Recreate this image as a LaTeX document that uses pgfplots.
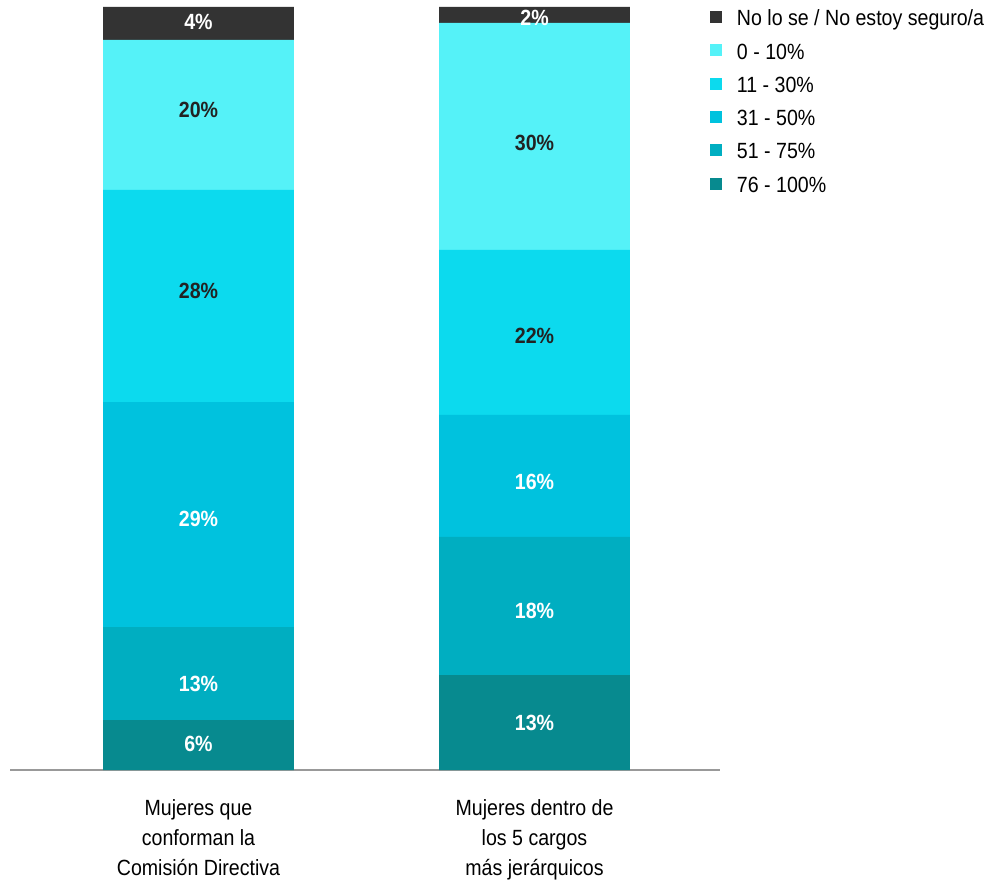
\documentclass[border=0pt]{standalone}
\usepackage{fontspec}
\setmainfont{Liberation Sans}[FakeStretch=0.89]
\usepackage{pgfplots}
\pgfplotsset{compat=1.18}
\definecolor{cns}{HTML}{333333}
\definecolor{cA}{HTML}{55F2F8}
\definecolor{cB}{HTML}{0CDAEE}
\definecolor{cC}{HTML}{00C2DE}
\definecolor{cD}{HTML}{00AEC1}
\definecolor{cE}{HTML}{078A8F}
\definecolor{txt}{HTML}{222222}
\pgfplotsset{
  base/.style={
    scale only axis,
    width=532.5pt, height=572.25pt,
    xmin=-0.561, xmax=1.552,
    ymin=0, ymax=100,
  },
  lbl/.style={
    only marks, mark=none, point meta=explicit,
    nodes near coords={\pgfmathprintnumber[assume math mode=true,precision=0]{\pgfplotspointmeta}\%},
    every node near coord/.append style={anchor=center, font=\fontsize{16.5}{18}\selectfont\bfseries, text=#1},
  },
}
\begin{document}
\begin{tikzpicture}
\path[use as bounding box] (-7.5pt,-84.75pt) rectangle (735.75pt,577.5pt);
\begin{axis}[
  base,
  ybar stacked,
  bar width=0.568,
  axis x line=bottom,
  axis y line=none,
  axis line style={-, draw=black!40, line width=1.2pt},
  xtick={0,1},
  major tick length=0pt,
  xticklabels={{Mujeres que\\conforman la\\Comisión Directiva},{Mujeres dentro de\\los 5 cargos\\más jerárquicos}},
  xticklabel style={align=center, font=\fontsize{16.5}{22.5}\selectfont, text=black, yshift=-18.5pt},
  ytick=\empty,
  legend style={at={(axis description cs:0.986,1.0)}, anchor=north west, draw=none, fill=none,
    font=\fontsize{16.5}{18}\selectfont, row sep=7.95pt, inner sep=0pt,
    /tikz/every odd column/.append style={column sep=9pt}},
  legend cell align=left,
  reverse legend,
  legend image code/.code={\fill[#1] (0pt,-3pt) rectangle (9pt,6pt);},
]
\addplot[fill=cE, draw=none] table {
0 6.55
1 12.45
};
\addlegendentry{76 - 100\%}
\addplot[fill=cD, draw=none] table {
0 12.19
1 18.09
};
\addlegendentry{51 - 75\%}
\addplot[fill=cC, draw=none] table {
0 29.49
1 15.99
};
\addlegendentry{31 - 50\%}
\addplot[fill=cB, draw=none] table {
0 27.79
1 21.63
};
\addlegendentry{11 - 30\%}
\addplot[fill=cA, draw=none] table {
0 19.66
1 29.75
};
\addlegendentry{0 - 10\%}
\addplot[fill=cns, draw=none] table {
0 4.32
1 2.10
};
\addlegendentry{No lo se / No estoy seguro/a}
\end{axis}
% value labels inside each segment
\begin{axis}[base, hide axis]
\addplot[lbl=white] table[x=x, y=y, meta=l] {x y l
0 3.40 6
1 6.15 13
0 11.27 13
1 20.84 18
0 32.90 29
1 37.75 16
0 98.04 4
1 98.56 2
};
\addplot[lbl=txt] table[x=x, y=y, meta=l] {x y l
0 62.78 28
1 56.88 22
0 86.50 20
1 82.18 30
};
\end{axis}
\end{tikzpicture}
\end{document}
